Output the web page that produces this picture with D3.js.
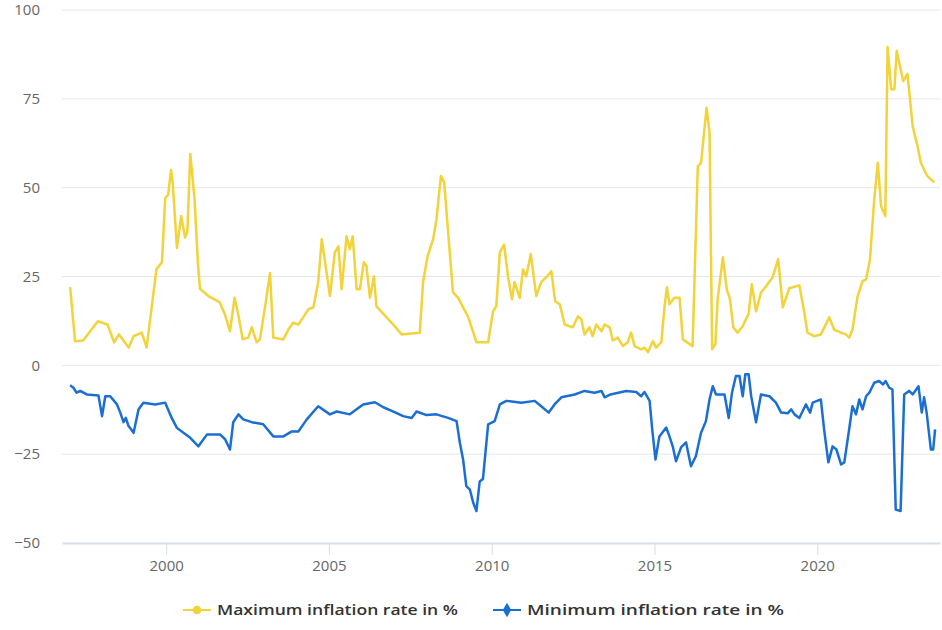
<!DOCTYPE html>
<html>
<head>
<meta charset="utf-8">
<script src="https://cdn.jsdelivr.net/npm/d3@7"></script>
<style>
	body { margin: 0; background: #fff; }
	text { font-family: "Open Sans", "DejaVu Sans", sans-serif; }
</style>
</head>
<body>
<div id="chart"></div>
<script>

// Maximum inflation rate in % (decimal year, value)
let maxRate = [
	[1997.05, 22], [1997.2, 6.8], [1997.45, 7], [1997.9, 12.4], [1998.2, 11.5], [1998.4, 6.5],
	[1998.55, 8.7], [1998.85, 5], [1999.0, 8.2], [1999.25, 9.2], [1999.4, 5], [1999.7, 27],
	[1999.87, 29], [1999.97, 47], [2000.06, 48], [2000.15, 55], [2000.2, 51.5], [2000.33, 33],
	[2000.46, 42], [2000.58, 36], [2000.65, 37.5], [2000.74, 59.5], [2000.87, 47], [2000.98, 28],
	[2001.04, 21.5], [2001.3, 19.5], [2001.65, 17.7], [2001.8, 14.4], [2001.96, 9.6], [2002.1, 19],
	[2002.22, 14], [2002.35, 7.3], [2002.52, 7.8], [2002.63, 10.7], [2002.78, 6.5], [2002.88, 7.3],
	[2003.04, 16.6], [2003.19, 26], [2003.29, 7.8], [2003.6, 7.3], [2003.75, 10], [2003.9, 12],
	[2004.06, 11.5], [2004.21, 13.5], [2004.37, 15.8], [2004.52, 16.3], [2004.67, 23.4], [2004.78, 35.5],
	[2005.03, 19.5], [2005.18, 31.8], [2005.29, 33.5], [2005.39, 21.4], [2005.54, 36.3], [2005.64, 32.7],
	[2005.73, 36.3], [2005.85, 21.4], [2005.95, 21.4], [2006.07, 29], [2006.15, 28], [2006.26, 19],
	[2006.38, 25], [2006.46, 16.6], [2006.77, 13.5], [2007.02, 11], [2007.23, 8.7], [2007.79, 9.2],
	[2007.89, 23.4], [2008.03, 30.7], [2008.2, 35.5], [2008.3, 41], [2008.44, 53.3], [2008.54, 51.5],
	[2008.66, 37.5], [2008.81, 20.5], [2008.97, 19], [2009.12, 16.3], [2009.27, 13.8], [2009.53, 6.5],
	[2009.89, 6.5], [2010.04, 15.2], [2010.14, 16.6], [2010.25, 31.8], [2010.38, 34], [2010.5, 25],
	[2010.62, 18.6], [2010.7, 23.4], [2010.86, 19], [2010.96, 27], [2011.06, 25], [2011.2, 31.3],
	[2011.37, 19.5], [2011.52, 23.4], [2011.68, 24.8], [2011.83, 26.5], [2011.95, 18], [2012.09, 17.2],
	[2012.24, 11.5], [2012.49, 10.7], [2012.65, 13.8], [2012.75, 13], [2012.85, 8.7], [2013.0, 10.7],
	[2013.1, 8.2], [2013.21, 11.5], [2013.37, 9.6], [2013.47, 11.5], [2013.62, 10.7], [2013.72, 7],
	[2013.87, 7.8], [2014.03, 5.4], [2014.18, 6.5], [2014.28, 9.2], [2014.39, 5.4], [2014.59, 4.5],
	[2014.69, 5], [2014.8, 3.7], [2014.95, 6.8], [2015.05, 5], [2015.21, 6.5], [2015.31, 16.6],
	[2015.38, 22], [2015.46, 17.2], [2015.61, 19], [2015.77, 19], [2015.87, 7.3], [2016.17, 5.4],
	[2016.33, 56], [2016.43, 57], [2016.6, 72.5], [2016.69, 65.5], [2016.77, 4.5], [2016.87, 6],
	[2016.94, 18.6], [2017.1, 30.4], [2017.22, 21.4], [2017.32, 18.6], [2017.42, 10.7], [2017.55, 9.2],
	[2017.71, 11], [2017.81, 13], [2017.89, 14.4], [2017.99, 22.8], [2018.12, 15.2], [2018.27, 20.5],
	[2018.43, 22.3], [2018.63, 24.8], [2018.8, 29.9], [2018.94, 16.3], [2019.14, 21.7], [2019.45, 22.5],
	[2019.6, 14.9], [2019.7, 9.2], [2019.9, 8.2], [2020.11, 8.7], [2020.37, 13.5], [2020.52, 10],
	[2020.73, 9.2], [2020.88, 8.7], [2020.98, 7.8], [2021.08, 10], [2021.24, 19.5], [2021.39, 23.7],
	[2021.5, 24.2], [2021.62, 29.9], [2021.75, 46.8], [2021.86, 57], [2021.96, 44.8], [2022.09, 42],
	[2022.16, 89.6], [2022.27, 77.7], [2022.37, 77.7], [2022.44, 88.5], [2022.54, 84.2], [2022.64, 80],
	[2022.77, 82], [2022.93, 67.3], [2023.08, 61.7], [2023.18, 57], [2023.38, 53.3], [2023.59, 51.5]
];

// Minimum inflation rate in % (decimal year, value)
let minRate = [
	[1997.05, -5.6], [1997.15, -6.3], [1997.25, -7.7], [1997.36, -7.2], [1997.56, -8.2], [1997.92, -8.5],
	[1998.03, -14.3], [1998.13, -8.7], [1998.28, -8.7], [1998.49, -11], [1998.59, -13.3], [1998.69, -16],
	[1998.76, -14.8], [1998.84, -17], [1999.0, -19], [1999.15, -12.4], [1999.3, -10.5], [1999.66, -11],
	[1999.97, -10.5], [2000.17, -14.8], [2000.33, -17.6], [2000.53, -19], [2000.74, -20.4], [2000.99, -22.8],
	[2001.25, -19.5], [2001.66, -19.5], [2001.81, -20.8], [2001.96, -23.7], [2002.06, -16], [2002.22, -13.8],
	[2002.37, -15.2], [2002.63, -16], [2002.98, -16.6], [2003.29, -20], [2003.6, -20], [2003.86, -18.6],
	[2004.06, -18.6], [2004.32, -15.2], [2004.67, -11.5], [2005.03, -13.8], [2005.24, -13], [2005.64, -13.8],
	[2006.05, -11], [2006.41, -10.4], [2006.67, -11.8], [2006.98, -13], [2007.28, -14.3], [2007.54, -14.8],
	[2007.69, -13], [2008.0, -14], [2008.3, -13.8], [2008.66, -14.8], [2008.92, -15.7], [2009.02, -21.7],
	[2009.12, -26.5], [2009.22, -34], [2009.33, -35], [2009.43, -38.6], [2009.53, -41], [2009.63, -32.7],
	[2009.73, -32], [2009.89, -16.6], [2010.09, -15.7], [2010.25, -11], [2010.45, -10], [2010.91, -10.5],
	[2011.32, -10], [2011.52, -11.5], [2011.75, -13.3], [2011.93, -11], [2012.14, -9], [2012.55, -8.2],
	[2012.85, -7.2], [2013.16, -7.7], [2013.37, -7.2], [2013.47, -9], [2013.65, -8.2], [2014.13, -7.2],
	[2014.44, -7.5], [2014.59, -8.7], [2014.69, -7.5], [2014.85, -10], [2014.93, -18], [2015.03, -26.5],
	[2015.15, -20], [2015.36, -17.5], [2015.46, -20], [2015.56, -22.8], [2015.66, -27], [2015.82, -23],
	[2015.97, -21.7], [2016.12, -28.4], [2016.27, -25.6], [2016.43, -19], [2016.58, -15.7], [2016.69, -9.6],
	[2016.79, -5.9], [2016.89, -8.2], [2017.15, -8.2], [2017.28, -14.8], [2017.38, -7.7], [2017.5, -3],
	[2017.61, -3], [2017.71, -8.7], [2017.79, -2.5], [2017.89, -2.5], [2017.97, -8.7], [2018.12, -16],
	[2018.27, -8.2], [2018.53, -8.7], [2018.73, -10.5], [2018.89, -13.3], [2019.09, -13.5], [2019.2, -12.4],
	[2019.3, -13.8], [2019.45, -14.8], [2019.65, -11], [2019.78, -13.3], [2019.86, -10.5], [2020.11, -9.6],
	[2020.21, -18], [2020.34, -27.3], [2020.47, -22.8], [2020.59, -23.7], [2020.73, -27.9], [2020.83, -27.3],
	[2020.98, -18], [2021.08, -11.5], [2021.19, -13.8], [2021.29, -9.6], [2021.39, -12.4], [2021.5, -8.7],
	[2021.6, -7.7], [2021.75, -4.9], [2021.9, -4.4], [2022.02, -5.4], [2022.1, -4.4], [2022.21, -6.3],
	[2022.31, -6.8], [2022.41, -40.6], [2022.56, -41], [2022.67, -8.2], [2022.82, -7.2], [2022.93, -8.2],
	[2023.11, -5.9], [2023.21, -13.3], [2023.28, -9], [2023.36, -13.3], [2023.49, -23.7], [2023.56, -23.7],
	[2023.62, -18]
];

let yTicks = [-50, -25, 0, 25, 50, 75, 100];
let xTicks = [2000, 2005, 2010, 2015, 2020];
let seriesNames = ["Maximum inflation rate in %", "Minimum inflation rate in %"];

function drawChart(width, height, selector) {

	// colors
	let yellow = "#f2d33a";
	let blue = "#1b6fd2";

	let margin = { top: 10, left: 62, right: 2, bottom: 87 };
	let chartWidth = width - margin.left - margin.right;
	let chartHeight = height - margin.top - margin.bottom;

	///////////////////////////////////////////
	//// Dimensions, scales and generators ////
	///////////////////////////////////////////

	let xScale = d3.scaleLinear()
		.domain([1996.8, 2023.77])
		.range([0, chartWidth]);

	let yScale = d3.scaleLinear()
		.domain([-50, 100])
		.range([chartHeight, 0]);

	let line = d3.line()
		.x(d => xScale(d[0]))
		.y(d => yScale(d[1]));

	//////////////////////////
	/// Building the chart ///
	//////////////////////////

	let svg = d3.select(selector)
		.append("svg")
		.attr("width", width)
		.attr("height", height);

	let chart = svg.append("g")
		.attr("transform", "translate(" + margin.left + "," + margin.top + ")");

	// gridlines
	chart.selectAll(".grid")
		.data(yTicks.filter(d => d !== -50))
		.join("line")
		.attr("class", "grid")
		.attr("x1", 0)
		.attr("x2", chartWidth)
		.attr("y1", d => yScale(d))
		.attr("y2", d => yScale(d))
		.attr("stroke", "#e6e6e6")
		.attr("stroke-width", 1);

	// y axis
	let yAxis = d3.axisLeft(yScale)
		.tickValues(yTicks)
		.tickSize(0)
		.tickPadding(22);

	chart.append("g")
		.call(yAxis)
		.call(g => g.select(".domain").remove())
		.selectAll("text")
		.attr("font-size", 15)
		.attr("fill", "#666");

	// x axis
	let xAxis = d3.axisBottom(xScale)
		.tickValues(xTicks)
		.tickFormat(d3.format("d"))
		.tickSize(12)
		.tickSizeOuter(0)
		.tickPadding(5);

	let xg = chart.append("g")
		.attr("transform", "translate(0," + chartHeight + ")")
		.call(xAxis);

	xg.select(".domain")
		.attr("stroke", "#d8dde9")
		.attr("stroke-width", 2);
	xg.selectAll(".tick line").attr("stroke", "#d8dde9");
	xg.selectAll("text")
		.attr("font-size", 15)
		.attr("fill", "#666");

	// lines
	chart.append("path")
		.datum(maxRate)
		.attr("d", line)
		.attr("fill", "none")
		.attr("stroke", yellow)
		.attr("stroke-width", 2.5)
		.attr("stroke-linejoin", "round");

	chart.append("path")
		.datum(minRate)
		.attr("d", line)
		.attr("fill", "none")
		.attr("stroke", blue)
		.attr("stroke-width", 2.5)
		.attr("stroke-linejoin", "round");

	//////////////
	/// Legend ///
	//////////////

	let legendItems = [
		{ name: seriesNames[0], color: yellow, x: 183, shape: d3.symbolCircle, textWidth: 241 },
		{ name: seriesNames[1], color: blue, x: 493, shape: d3.symbolDiamond, textWidth: 257 }
	];

	let legend = svg.append("g")
		.attr("transform", "translate(0,610)");

	let item = legend.selectAll(".legend-item")
		.data(legendItems)
		.join("g")
		.attr("class", "legend-item")
		.attr("transform", d => "translate(" + d.x + ",0)");

	item.append("line")
		.attr("x1", 0)
		.attr("x2", 28)
		.attr("stroke", d => d.color)
		.attr("stroke-width", 2);

	item.append("path")
		.attr("transform", "translate(14,0)")
		.attr("d", d => d3.symbol().type(d.shape).size(60)())
		.attr("fill", d => d.color);

	item.append("text")
		.attr("x", 34)
		.attr("y", 0)
		.attr("dy", "0.35em")
		.attr("font-size", 15)
		.attr("font-weight", 600)
		.attr("fill", "#333")
		.attr("textLength", d => d.textWidth)
		.attr("lengthAdjust", "spacingAndGlyphs")
		.text(d => d.name);
}

drawChart(942, 630, "#chart");
</script>
</body>
</html>
